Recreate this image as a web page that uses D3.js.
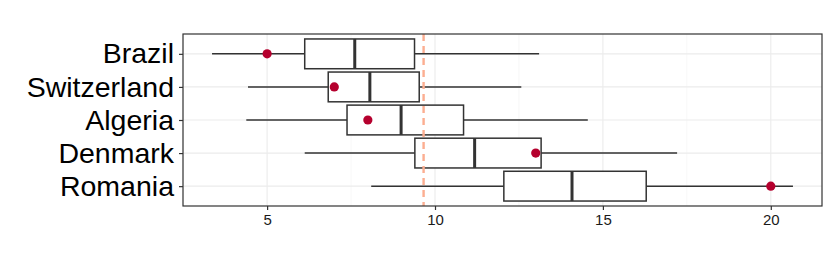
<!DOCTYPE html>
<html lang="en">
<head>
  <meta charset="utf-8">
  <title>Boxplot by country</title>
  <script src="https://d3js.org/d3.v7.min.js"></script>
  <style type="text/css">
    body { margin: 0; background: #fff; }
  </style>
</head>
<body>
  <script type="text/javascript">
    // data
    var countries = ["Brazil", "Switzerland", "Algeria", "Denmark", "Romania"];
    var whiskerLow = [3.36, 4.43, 4.38, 6.12, 8.10];
    var q1 = [6.12, 6.82, 7.38, 9.40, 12.05];
    var median = [7.61, 8.06, 8.99, 11.18, 14.08];
    var q3 = [9.39, 9.53, 10.85, 13.16, 16.29];
    var whiskerHigh = [13.10, 12.57, 14.55, 17.21, 20.66];
    var highlight = [5, 7, 8, 13, 20];
    var refLine = 9.66;
    var xTicks = [5, 10, 15, 20];
    var xMinor = [2.5, 7.5, 12.5, 17.5];

    var w = 830, h = 260;
    var margin = { top: 34, right: 8, bottom: 54, left: 183 };
    var panelTop = margin.top, panelBottom = h - margin.bottom;

    var svg = d3.select("body")
      .append("svg")
      .attr("width", w)
      .attr("height", h);

    // ggplot style 5% expansion
    var lo = d3.min(whiskerLow), hi = d3.max(whiskerHigh);
    var pad = (hi - lo) * 0.05;
    var x = d3.scaleLinear()
      .domain([lo - pad, hi + pad])
      .range([margin.left, w - margin.right]);

    var y = d3.scalePoint()
      .domain(countries)
      .range([panelTop, panelBottom])
      .padding(0.6);

    var boxH = y.step() * 0.9;

    // grid
    var grid = svg.append("g");
    grid.selectAll(".minor").data(xMinor).enter().append("line")
      .attr("x1", d => x(d)).attr("x2", d => x(d))
      .attr("y1", panelTop).attr("y2", panelBottom)
      .attr("stroke", "#f2f2f2").attr("stroke-width", 0.6);
    grid.selectAll(".majx").data(xTicks).enter().append("line")
      .attr("x1", d => x(d)).attr("x2", d => x(d))
      .attr("y1", panelTop).attr("y2", panelBottom)
      .attr("stroke", "#ebebeb").attr("stroke-width", 1.1);
    grid.selectAll(".majy").data(countries).enter().append("line")
      .attr("x1", margin.left).attr("x2", w - margin.right)
      .attr("y1", d => y(d)).attr("y2", d => y(d))
      .attr("stroke", "#ebebeb").attr("stroke-width", 1.1);

    var rows = countries.map(function (c, i) {
      return { name: c, lo: whiskerLow[i], q1: q1[i], med: median[i], q3: q3[i], hi: whiskerHigh[i], pt: highlight[i] };
    });

    var g = svg.append("g");
    // whiskers
    g.selectAll(".wl").data(rows).enter().append("line")
      .attr("x1", d => x(d.lo)).attr("x2", d => x(d.q1))
      .attr("y1", d => y(d.name)).attr("y2", d => y(d.name))
      .attr("stroke", "#333").attr("stroke-width", 1.5);
    g.selectAll(".wh").data(rows).enter().append("line")
      .attr("x1", d => x(d.q3)).attr("x2", d => x(d.hi))
      .attr("y1", d => y(d.name)).attr("y2", d => y(d.name))
      .attr("stroke", "#333").attr("stroke-width", 1.5);
    // boxes
    g.selectAll("rect").data(rows).enter().append("rect")
      .attr("x", d => x(d.q1))
      .attr("width", d => x(d.q3) - x(d.q1))
      .attr("y", d => y(d.name) - boxH / 2)
      .attr("height", boxH)
      .attr("fill", "#fff").attr("stroke", "#333").attr("stroke-width", 1.5);
    // medians
    g.selectAll(".med").data(rows).enter().append("line")
      .attr("x1", d => x(d.med)).attr("x2", d => x(d.med))
      .attr("y1", d => y(d.name) - boxH / 2).attr("y2", d => y(d.name) + boxH / 2)
      .attr("stroke", "#333").attr("stroke-width", 3);

    // reference line
    svg.append("line")
      .attr("x1", x(refLine)).attr("x2", x(refLine))
      .attr("y1", panelTop).attr("y2", panelBottom)
      .attr("stroke", "#fcae91").attr("stroke-width", 2.4)
      .attr("stroke-dasharray", "7,5");

    // highlighted points
    svg.append("g").selectAll("circle").data(rows).enter().append("circle")
      .attr("cx", d => x(d.pt)).attr("cy", d => y(d.name))
      .attr("r", 4.6).attr("fill", "#b5002e");

    // panel border
    svg.append("rect")
      .attr("x", margin.left).attr("y", panelTop)
      .attr("width", w - margin.right - margin.left)
      .attr("height", panelBottom - panelTop)
      .attr("fill", "none").attr("stroke", "#333").attr("stroke-width", 1.2);

    // axes
    var xAxis = svg.append("g")
      .attr("transform", "translate(0," + panelBottom + ")")
      .call(d3.axisBottom(x).tickValues(xTicks).tickSize(4).tickPadding(4));
    xAxis.select(".domain").remove();
    xAxis.selectAll(".tick line").attr("stroke", "#333").attr("stroke-width", 1.2);
    xAxis.selectAll("text")
      .style("font-size", "15px").style("fill", "#1a1a1a")
      .style("font-family", "'Liberation Sans', Arial, sans-serif");

    var yAxis = svg.append("g")
      .attr("transform", "translate(" + margin.left + ",0)")
      .call(d3.axisLeft(y).tickSize(4).tickPadding(5));
    yAxis.select(".domain").remove();
    yAxis.selectAll(".tick line").attr("stroke", "#333").attr("stroke-width", 1.2);
    yAxis.selectAll("text")
      .style("font-size", "28.5px").style("fill", "#000")
      .style("font-family", "'Liberation Sans', Arial, sans-serif");
  </script>
</body>
</html>
